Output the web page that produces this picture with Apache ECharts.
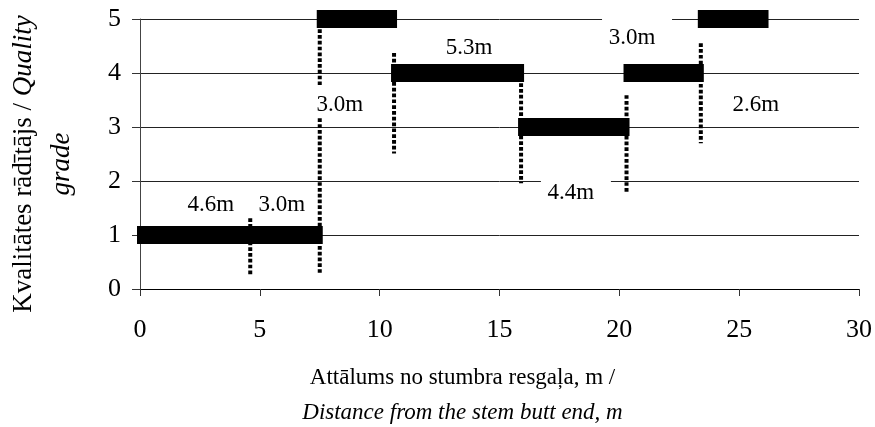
<!DOCTYPE html>
<html><head><meta charset="utf-8">
<script src="https://cdn.jsdelivr.net/npm/echarts@6/dist/echarts.min.js"></script>
<style>html,body{margin:0;padding:0;background:#fff}#c{width:875px;height:427px}</style>
</head><body><div id="c"></div>
<script>
// ---- data ----
const xTicks = [0, 5, 10, 15, 20, 25, 30];
const yTicks = [0, 1, 2, 3, 4, 5];
// quality-grade segments along the stem
const segStart = [0, 7.5, 10.6, 15.9, 20.3, 23.4];
const segEnd   = [7.5, 10.6, 15.9, 20.3, 23.4, 26.1];
const segGrade = [1, 5, 4, 3, 4, 5];
// dotted cut marks
const dropX      = [4.6, 7.5, 7.5, 10.6, 15.9, 20.3, 23.4];
const dropTop    = [1.31, 4.81, 3.16, 4.37, 3.81, 3.59, 4.55];
const dropBottom = [0.27, 3.78, 0.29, 2.51, 1.96, 1.77, 2.70];
// length labels
const labelText = ['4.6m', '3.0m', '3.0m', '5.3m', '4.4m', '3.0m', '2.6m'];
const labelX    = [2.96, 5.92, 8.34, 13.73, 17.98, 20.53, 25.7];
const labelY    = [1.55, 1.55, 3.41, 4.46, 1.78, 4.64, 3.41];

const FF = "'Liberation Serif','Times New Roman',serif";
const chart = echarts.init(document.getElementById('c'), null, {renderer: 'canvas'});

const segData = segStart.map((s, i) => [s, segEnd[i], segGrade[i]]);
const dropData = dropX.map((x, i) => [x, dropTop[i], dropBottom[i]]);
const labData = labelX.map((x, i) => [x, labelY[i], labelText[i]]);

chart.setOption({
  animation: false,
  backgroundColor: '#fff',
  grid: {left: 140, right: 16, top: 19, bottom: 138, outerBoundsMode: 'none', containLabel: false},
  xAxis: {
    type: 'value',
    min: xTicks[0], max: xTicks[xTicks.length - 1], interval: xTicks[1] - xTicks[0],
    axisLine: {show: true, lineStyle: {color: '#000', width: 1}},
    axisTick: {show: true, inside: false, length: 7, lineStyle: {color: '#333'}},
    axisLabel: {fontFamily: FF, fontSize: 26, color: '#000', margin: 28},
    splitLine: {show: false},
    name: '{r|Attālums no stumbra resgaļa, m /}\n{i|Distance from the stem butt end, m}',
    nameLocation: 'middle',
    nameGap: 71,
    nameTextStyle: {
      fontFamily: FF, fontSize: 23, color: '#000', lineHeight: 35,
      padding: [0, 74, 0, 0],
      rich: {
        r: {fontFamily: FF, fontSize: 23, color: '#000', lineHeight: 35},
        i: {fontFamily: FF, fontSize: 23, color: '#000', lineHeight: 35, fontStyle: 'italic'}
      }
    }
  },
  yAxis: {
    type: 'value',
    min: yTicks[0], max: yTicks[yTicks.length - 1], interval: yTicks[1] - yTicks[0],
    axisLine: {show: true, lineStyle: {color: '#444', width: 1}},
    axisTick: {show: true, inside: false, length: 8, lineStyle: {color: '#333'}},
    axisLabel: {fontFamily: FF, fontSize: 26, color: '#000', margin: 19},
    splitLine: {show: true, lineStyle: {color: '#222', width: 1}},
    name: '{r|Kvalitātes rādītājs / }{i|Quality}\n{i|grade}',
    nameLocation: 'middle',
    nameGap: 59,
    nameRotate: 90,
    nameTextStyle: {
      fontFamily: FF, fontSize: 27, color: '#000', lineHeight: 38,
      padding: [0, 20, 0, 0],
      rich: {
        r: {fontFamily: FF, fontSize: 27, color: '#000', lineHeight: 38},
        i: {fontFamily: FF, fontSize: 27, color: '#000', lineHeight: 38, fontStyle: 'italic'}
      }
    }
  },
  series: [
    {
      type: 'custom', z: 3, clip: false,
      data: segData,
      encode: {x: [0, 1], y: 2},
      renderItem: function (params, api) {
        const p0 = api.coord([api.value(0), api.value(2)]);
        const p1 = api.coord([api.value(1), api.value(2)]);
        return {type: 'rect', shape: {x: p0[0] - 3, y: p0[1] - 9, width: p1[0] - p0[0] + 6, height: 18},
                style: {fill: '#000'}};
      }
    },
    {
      type: 'custom', z: 4, clip: false,
      data: labData,
      encode: {x: 0, y: 1},
      renderItem: function (params, api) {
        const p = api.coord([api.value(0), api.value(1)]);
        const txt = labelText[params.dataIndex];
        return {type: 'group', children: [
          {type: 'rect', shape: {x: p[0] - 30, y: p[1] - 21, width: 70, height: 33}, style: {fill: '#fff'}},
          {type: 'text', x: p[0], y: p[1], style: {text: txt, fontFamily: FF, fontSize: 23, fill: '#000',
            align: 'center', verticalAlign: 'middle'}}
        ]};
      }
    },
    {
      type: 'custom', z: 5, clip: false,
      data: dropData,
      encode: {x: 0, y: [1, 2]},
      renderItem: function (params, api) {
        const p0 = api.coord([api.value(0), api.value(1)]);
        const p1 = api.coord([api.value(0), api.value(2)]);
        return {type: 'line', shape: {x1: p0[0], y1: p0[1], x2: p1[0], y2: p1[1]},
                style: {stroke: '#000', lineWidth: 4, lineDash: [3.7, 2.1], lineCap: 'butt'}};
      }
    }
  ]
});
</script>
</body></html>
